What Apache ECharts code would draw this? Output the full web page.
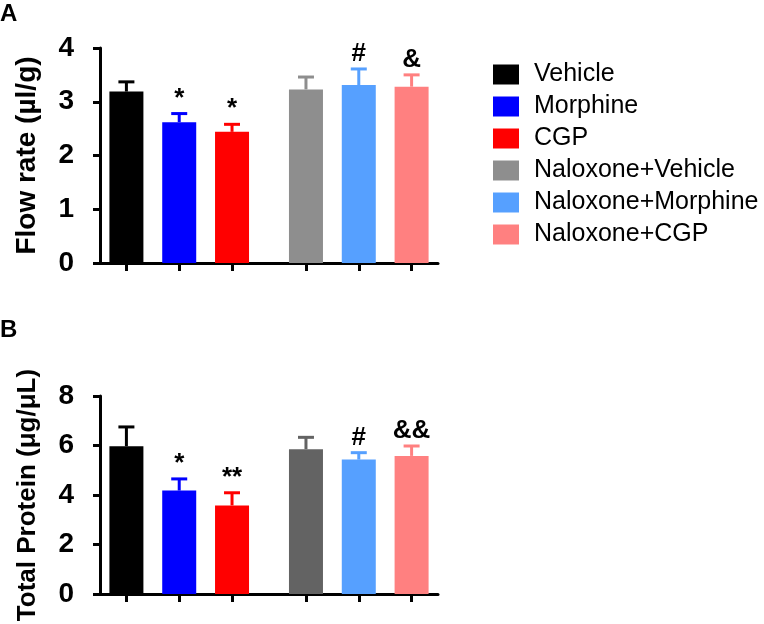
<!DOCTYPE html>
<html>
<head>
<meta charset="utf-8">
<script src="https://cdn.jsdelivr.net/npm/echarts@6/dist/echarts.min.js"></script>
<style>
  html, body { margin: 0; padding: 0; background: #fff; }
  #chart { width: 764px; height: 624px; }
</style>
</head>
<body>
<div id="chart"></div>
<script>
// groups and where they sit on the x axis (gap between the two sets)
const groups = ["Vehicle", "Morphine", "CGP", "Naloxone+Vehicle", "Naloxone+Morphine", "Naloxone+CGP"];
const positions = [0.5, 1.5, 2.5, 3.9, 4.9, 5.9];

// panel A: flow rate
const flowMean = [3.19, 2.62, 2.44, 3.23, 3.31, 3.28];
const flowErr = [0.18, 0.16, 0.14, 0.23, 0.30, 0.22];
const flowMarks = ["", "*", "*", "", "#", "&"];

// panel B: total protein
const proteinMean = [5.97, 4.18, 3.58, 5.85, 5.43, 5.58];
const proteinErr = [0.78, 0.47, 0.51, 0.48, 0.28, 0.40];
const proteinMarks = ["", "*", "**", "", "#", "&&"];

const colorsA = ["#000000", "#0000ff", "#ff0000", "#8e8e8e", "#56a0ff", "#ff8080"];
const colorsB = ["#000000", "#0000ff", "#ff0000", "#636363", "#56a0ff", "#ff8080"];

const font = "Liberation Sans, Arial, sans-serif";

const chart = echarts.init(document.getElementById("chart"));

// error bar (upper only) + significance mark
const errRender = (colors, marks) => (params, api) => {
  const x = api.value(0), m = api.value(1), e = api.value(2);
  const base = api.coord([x, m]);
  const top = api.coord([x, m + e]);
  const c = colors[params.dataIndex];
  return {
    type: "group",
    children: [
      { type: "line", shape: { x1: base[0], y1: base[1], x2: top[0], y2: top[1] }, style: { stroke: c, lineWidth: 3 } },
      { type: "line", shape: { x1: top[0] - 8, y1: top[1], x2: top[0] + 8, y2: top[1] }, style: { stroke: c, lineWidth: 3 } },
      {
        type: "text", x: top[0], y: top[1] - 2,
        style: { text: marks[params.dataIndex], fill: "#000", font: "bold 26px " + font, align: "center", verticalAlign: "bottom" }
      }
    ]
  };
};

const xAxisFor = (gridIndex, offset) => ({
  type: "value", gridIndex, min: 0, max: 6.4, offset,
  axisLine: { show: true, lineStyle: { color: "#000", width: 3 } },
  axisTick: { show: true, length: 8, lineStyle: { color: "#000", width: 3 }, customValues: positions },
  axisLabel: { show: false },
  splitLine: { show: false }
});

const yAxisFor = (gridIndex, max, interval, name, nameSize) => ({
  type: "value", gridIndex, min: 0, max, interval, offset: 23,
  name, nameLocation: "middle", nameGap: 36,
  nameTextStyle: { fontFamily: font, fontWeight: "bold", fontSize: nameSize, color: "#000" },
  axisLine: { show: true, lineStyle: { color: "#000", width: 3 } },
  axisTick: { show: true, length: 7, lineStyle: { color: "#000", width: 3 } },
  axisLabel: { fontFamily: font, fontWeight: "bold", fontSize: 28, color: "#000", margin: 3 },
  splitLine: { show: false }
});

const barSeries = (axisIndex, means, colors) => groups.map((g, i) => ({
  name: g, type: "bar", xAxisIndex: axisIndex, yAxisIndex: axisIndex,
  barWidth: 34, barGap: "-100%",
  itemStyle: { color: colors[i] },
  data: [[positions[i], means[i]]]
}));

const errSeries = (axisIndex, means, errs, colors, marks) => ({
  type: "custom", xAxisIndex: axisIndex, yAxisIndex: axisIndex, z: 3,
  renderItem: errRender(colors, marks),
  data: positions.map((p, i) => [p, means[i], errs[i]])
});

chart.setOption({
  animation: false,
  title: [
    { text: "A", left: 0, top: 2, padding: 0, textStyle: { fontFamily: font, fontWeight: "bold", fontSize: 24, color: "#000" } },
    { text: "B", left: 0, top: 318, padding: 0, textStyle: { fontFamily: font, fontWeight: "bold", fontSize: 24, color: "#000" } }
  ],
  legend: {
    data: groups, orient: "vertical", left: 493, top: 62, padding: 0,
    icon: "rect", itemWidth: 26, itemHeight: 20, itemGap: 7,
    textStyle: { fontFamily: font, fontSize: 25, color: "#000", padding: [0, 0, 0, 10] }
  },
  grid: [
    { left: 100, width: 338, top: 48, height: 215 },
    { left: 100, width: 338, top: 396, height: 198 }
  ],
  xAxis: [xAxisFor(0, 24), xAxisFor(1, 21)],
  yAxis: [yAxisFor(0, 4, 1, "Flow rate (µl/g)", 28), yAxisFor(1, 8, 2, "Total Protein (μg/μL)", 26)],
  series: [
    ...barSeries(0, flowMean, colorsA),
    ...barSeries(1, proteinMean, colorsB),
    errSeries(0, flowMean, flowErr, colorsA, flowMarks),
    errSeries(1, proteinMean, proteinErr, colorsB, proteinMarks)
  ]
});
</script>
</body>
</html>
